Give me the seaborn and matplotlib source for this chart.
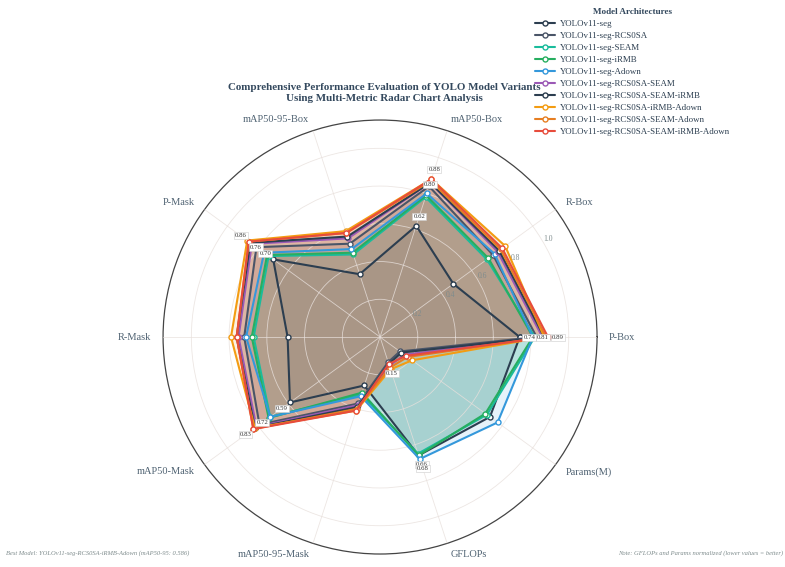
import numpy as np
import pandas as pd
import matplotlib
matplotlib.use("Agg")
import matplotlib.pyplot as plt
import seaborn as sns
from matplotlib.lines import Line2D

# --- data ---
metrics = ['P-Box', 'R-Box', 'mAP50-Box', 'mAP50-95-Box', 'P-Mask',
           'R-Mask', 'mAP50-Mask', 'mAP50-95-Mask', 'GFLOPs', 'Params(M)']

models = [
    'YOLOv11-seg',
    'YOLOv11-seg-RCS0SA',
    'YOLOv11-seg-SEAM',
    'YOLOv11-seg-iRMB',
    'YOLOv11-seg-Adown',
    'YOLOv11-seg-RCS0SA-SEAM',
    'YOLOv11-seg-RCS0SA-SEAM-iRMB',
    'YOLOv11-seg-RCS0SA-iRMB-Adown',
    'YOLOv11-seg-RCS0SA-SEAM-Adown',
    'YOLOv11-seg-RCS0SA-SEAM-iRMB-Adown',
]

seg = [0.74, 0.48, 0.62, 0.35, 0.70, 0.49, 0.59, 0.27, 0.66, 0.72]
rcs = [0.83, 0.74, 0.84, 0.52, 0.81, 0.72, 0.79, 0.37, 0.14, 0.13]
seam = [0.82, 0.70, 0.78, 0.46, 0.73, 0.67, 0.72, 0.32, 0.65, 0.70]
irmb = [0.81, 0.71, 0.79, 0.47, 0.74, 0.68, 0.73, 0.31, 0.66, 0.69]
adown = [0.81, 0.75, 0.80, 0.49, 0.76, 0.71, 0.72, 0.33, 0.68, 0.77]
rcs_seam = [0.86, 0.77, 0.86, 0.55, 0.84, 0.75, 0.81, 0.38, 0.16, 0.16]
rcs_seam_irmb = [0.87, 0.78, 0.86, 0.56, 0.85, 0.76, 0.82, 0.39, 0.15, 0.14]
rcs_irmb_adown = [0.87, 0.82, 0.88, 0.59, 0.87, 0.79, 0.82, 0.41, 0.18, 0.21]
rcs_seam_adown = [0.88, 0.79, 0.87, 0.58, 0.86, 0.76, 0.83, 0.40, 0.17, 0.18]
rcs_all = [0.89, 0.80, 0.88, 0.58, 0.86, 0.76, 0.83, 0.41, 0.15, 0.17]

all_values = [seg, rcs, seam, irmb, adown, rcs_seam, rcs_seam_irmb,
              rcs_irmb_adown, rcs_seam_adown, rcs_all]

colors = ['#2c3e50', '#4a5568', '#1abc9c', '#27ae60', '#3498db',
          '#9b59b6', '#2c3e50', '#f39c12', '#e67e22', '#e74c3c']

annotated_models = [0, 4, 9]
annotated_metrics = [0, 2, 4, 6, 8]
r_max = 1.15

# --- style ---
sns.set_theme(style='white')
plt.rcParams['font.family'] = ['Liberation Serif', 'DejaVu Serif']

fig = plt.figure(figsize=(7.85, 5.67), dpi=100)
ax = fig.add_axes([0.2077, 0.0229, 0.5529, 0.7654], projection='polar')

n = len(metrics)
theta = np.linspace(0, 2 * np.pi, n, endpoint=False)
theta_closed = np.append(theta, 2 * np.pi)

# long-form table for seaborn
rows = []
for name, vals in zip(models, all_values):
    for t, v in zip(theta_closed, vals + vals[:1]):
        rows.append({'model': name, 'theta': t, 'value': v})
df = pd.DataFrame(rows)

for i, name in enumerate(models):
    sub = df[df['model'] == name]
    ax.fill(sub['theta'], sub['value'], color=colors[i], alpha=0.12,
            lw=0, zorder=1)
    sns.lineplot(data=sub, x='theta', y='value', sort=False, estimator=None,
                 ax=ax, color=colors[i], linewidth=1.5, marker='o',
                 markersize=3.6, markerfacecolor='white',
                 markeredgecolor=colors[i], markeredgewidth=1.0, zorder=3)

# value labels
for i in annotated_models:
    for j in annotated_metrics:
        v = all_values[i][j]
        ang = theta[j]
        ax.annotate(f'{v:.2f}', xy=(ang, v),
                    xytext=(7 * np.cos(ang), 7 * np.sin(ang)),
                    textcoords='offset points', ha='center', va='center',
                    fontsize=4.9, color='#333333', zorder=5,
                    bbox=dict(boxstyle='square,pad=0.15', fc='white',
                              ec='#cccccc', lw=0.4))

# axes cosmetics
ax.set_ylim(0, r_max)
ax.set_xticks(theta)
ax.set_xticklabels([])
ax.set_yticks([0.2, 0.4, 0.6, 0.8, 1.0])
ax.set_yticklabels(['0.2', '0.4', '0.6', '0.8', '1.0'], fontsize=5.5,
                   color='#7f8c8d')
ax.set_rlabel_position(30)
ax.set_xlabel('')
ax.set_ylabel('')
ax.set_axisbelow(False)
ax.grid(True, color='#e8e0dc', linewidth=0.6, alpha=0.8)
ax.spines['polar'].set_color('#444444')
ax.spines['polar'].set_linewidth(0.9)
ax.set_facecolor('white')

# metric names outside the circle
for ang, lab in zip(theta, metrics):
    c = np.cos(ang)
    ha = 'center' if abs(c) < 1e-6 else ('left' if c > 0 else 'right')
    ax.text(ang, r_max * 1.056, lab, ha=ha, va='center', fontsize=7.5,
            color='#4f6272', clip_on=False)

# title
fig.text(0.49, 0.836,
         'Comprehensive Performance Evaluation of YOLO Model Variants\n'
         'Using Multi-Metric Radar Chart Analysis',
         ha='center', va='center', fontsize=7.9, fontweight='bold',
         color='#34495e', linespacing=1.3)

# legend
handles = [Line2D([0], [0], color=colors[i], lw=1.5, marker='o',
                  markersize=3.6, markerfacecolor='white',
                  markeredgecolor=colors[i]) for i in range(len(models))]
leg = fig.legend(handles, models, loc='upper left',
                 bbox_to_anchor=(0.675, 0.996), frameon=False, fontsize=6.4,
                 title='Model Architectures', labelspacing=0.43,
                 handlelength=2.2, handletextpad=0.6, borderaxespad=0.2)
leg.get_title().set_fontweight('bold')
leg.get_title().set_fontsize(6.6)
leg.get_title().set_color('#34495e')
for t in leg.get_texts():
    t.set_color('#2c3e50')

# footer notes
fig.text(0.008, 0.025,
         'Best Model: YOLOv11-seg-RCS0SA-iRMB-Adown (mAP50-95: 0.586)',
         ha='left', va='center', fontsize=4.7, style='italic', color='#7f8c8d')
fig.text(0.997, 0.025,
         'Note: GFLOPs and Params normalized (lower values = better)',
         ha='right', va='center', fontsize=4.7, style='italic', color='#7f8c8d')

fig.savefig('out.png', dpi=100)
